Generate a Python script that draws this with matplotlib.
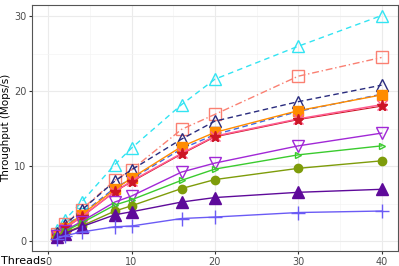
import matplotlib
matplotlib.use("Agg")
import matplotlib.pyplot as plt

threads = [1, 2, 4, 8, 10, 16, 20, 30, 40]

cyan_tri = [1.5, 2.8, 5.2, 10.2, 12.4, 18.2, 21.6, 26.0, 30.1]
salmon_sq = [1.0, 2.3, 4.2, 8.1, 9.5, 14.9, 16.9, 22.0, 24.5]
navy_tri = [1.1, 2.2, 4.1, 8.0, 9.5, 13.6, 16.0, 18.6, 20.8]
blue_dash = [0.9, 1.9, 3.6, 7.1, 8.3, 12.3, 14.2, 17.3, 19.6]
orange_sq = [0.8, 1.8, 3.5, 6.9, 8.4, 12.6, 14.5, 17.4, 19.5]
pink_x = [0.7, 1.7, 3.2, 6.6, 8.0, 11.7, 14.0, 16.3, 18.2]
red_star = [0.7, 1.7, 3.2, 6.6, 7.9, 11.6, 13.9, 16.2, 18.0]
purple_dn = [0.6, 1.4, 2.6, 5.2, 6.0, 9.2, 10.4, 12.7, 14.4]
green_arr = [0.6, 1.3, 2.4, 4.8, 5.5, 8.1, 9.6, 11.5, 12.7]
olive_dot = [0.5, 1.1, 2.0, 4.0, 4.7, 7.0, 8.2, 9.7, 10.7]
dpurple_tri = [0.5, 1.0, 1.9, 3.5, 3.9, 5.2, 5.8, 6.5, 6.9]
blue_plus = [0.3, 0.7, 1.2, 1.9, 2.0, 3.0, 3.2, 3.8, 4.0]

fig = plt.figure(figsize=(3.99, 2.66), dpi=100)
ax = fig.add_axes([0.08, 0.056, 0.917, 0.925])

# open markers
ax.plot(threads, cyan_tri, color="#33E4F2", ls=(0, (4, 3)), lw=1, marker="^",
        ms=9, mfc="none", mew=1)
ax.plot(threads, salmon_sq, color="#FA8072", ls=(0, (5, 2, 1, 2)), lw=1, marker="s",
        ms=8, mfc="none", mew=1)
ax.plot(threads, navy_tri, color="#2A2C7E", ls=(0, (4, 2.5)), lw=1, marker="^",
        ms=9, mfc="none", mew=1)
ax.plot(threads, blue_dash, color="#4169E1", ls=(0, (4, 2.5)), lw=1)
ax.plot(threads, orange_sq, color="#FF8C00", lw=1, marker="s", ms=7.5)
ax.plot(threads, red_star, color="#CC1525", lw=0.8, marker="*", ms=8)
ax.plot(threads, pink_x, color="#FF5C90", lw=1.1, marker="x", ms=7, mew=1)
ax.plot(threads, red_star, color="#CC1525", lw=0, marker="*", ms=8)
ax.plot(threads, purple_dn, color="#A128D6", lw=1, marker="v", ms=9,
        mfc="none", mew=1)
ax.plot(threads, green_arr, color="#3ACB2E", lw=1, marker=">", ms=5, mfc="none",
        mew=1)
ax.plot(threads, olive_dot, color="#7E9C0A", lw=1, marker="o", ms=6)
ax.plot(threads, dpurple_tri, color="#5E0A9A", lw=1, marker="^", ms=8)
ax.plot(threads, blue_plus, color="#6B5BF5", lw=1, marker="+", ms=10, mew=1)

ax.set_xlim(-1.95, 41.95)
ax.set_ylim(-1.35, 31.5)
ax.set_xticks([0, 10, 20, 30, 40])
ax.set_yticks([0, 10, 20, 30])
ax.set_xticks([5, 15, 25, 35], minor=True)
ax.set_yticks([5, 15, 25], minor=True)
ax.grid(True, which="major", color="#EBEBEB", lw=0.8)
ax.grid(True, which="minor", color="#F4F4F4", lw=0.5)
ax.set_axisbelow(True)
ax.tick_params(which="major", length=2.5, color="#333333", labelsize=7,
               labelcolor="#4D4D4D", pad=1.5)
ax.tick_params(which="minor", length=0)
for s in ax.spines.values():
    s.set_color("#555555")
    s.set_linewidth(0.8)

ax.set_ylabel("Throughput (Mops/s)", fontsize=7.5, labelpad=2)
fig.text(0.002, 0.0, "Threads", fontsize=8, ha="left", va="bottom")

fig.savefig("out.png", dpi=100)
